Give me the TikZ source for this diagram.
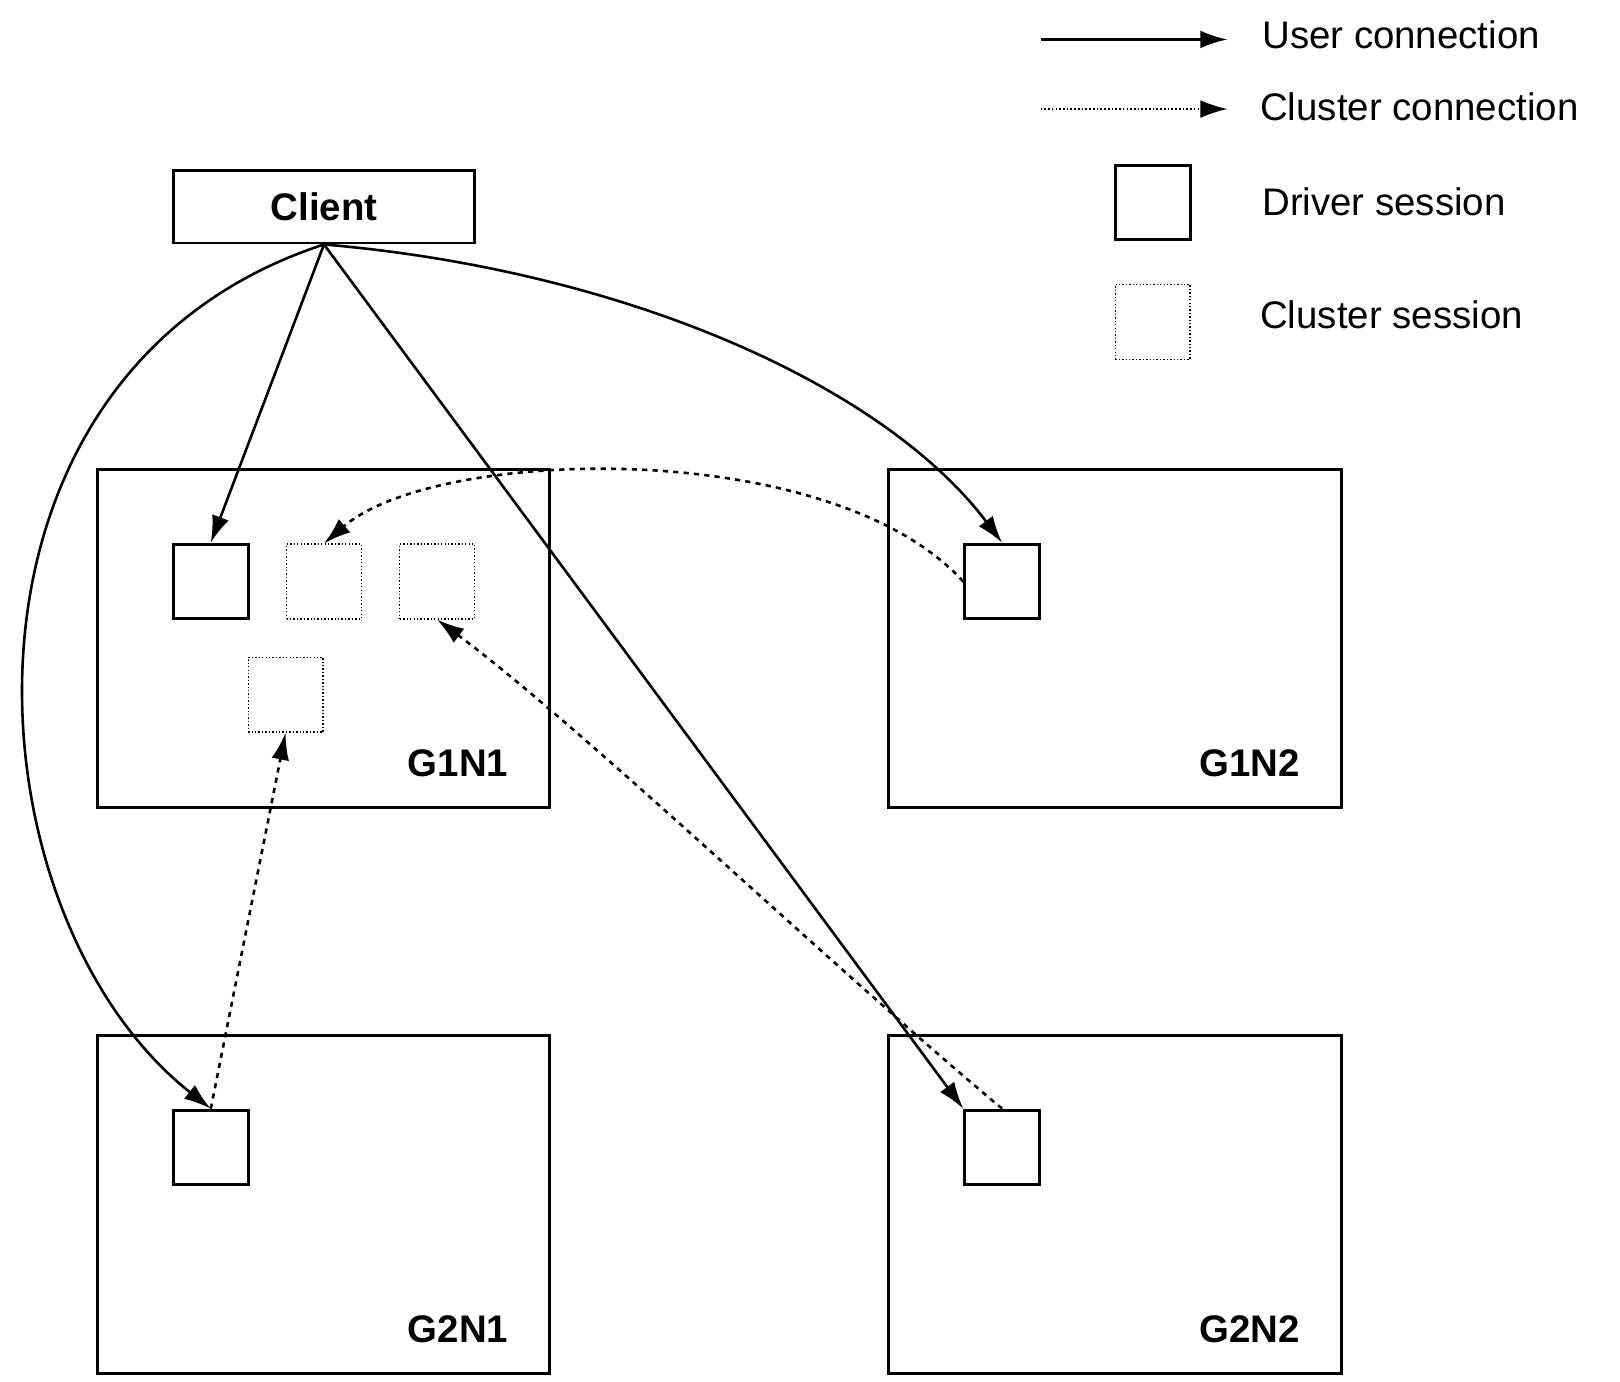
\documentclass[tikz,border=0pt]{standalone}
\usepackage{fontspec}
\setmainfont{Liberation Sans}
\usetikzlibrary{arrows.meta}
\begin{document}
\begin{tikzpicture}[x=1pt,y=-1pt,
  box/.style={draw,line width=2.8pt},
  drv/.style={draw,line width=2.8pt,minimum width=72pt,minimum height=72pt,inner sep=0pt},
  cls/.style={draw,dotted,line width=1.3pt,minimum width=72pt,minimum height=72pt,inner sep=0pt},
  user/.style={line width=2.5pt,-{Latex[length=26pt,width=17pt]}},
  clus/.style={line width=2.5pt,dash pattern=on 5pt off 5pt,-{Latex[length=26pt,width=17pt]}},
  lbl/.style={font=\fontsize{37}{42}\selectfont\bfseries,anchor=south east},
  leg/.style={font=\fontsize{37}{42}\selectfont,anchor=west}]
\useasboundingbox (0,0) rectangle (1560,1330);
\node[box,minimum width=290pt,minimum height=70pt,inner sep=0pt,font=\fontsize{37}{42}\selectfont\bfseries] (client) at (312,199) {Client};
\draw[box] (94,452) rectangle (529,778); \node[lbl] (l1) at (493,752) {G1N1};
\draw[box] (856,452) rectangle (1292,778); \node[lbl] (l2) at (1255,752) {G1N2};
\draw[box] (94,997) rectangle (529,1323); \node[lbl] (l3) at (493,1297) {G2N1};
\draw[box] (856,997) rectangle (1292,1323); \node[lbl] (l4) at (1255,1297) {G2N2};
\node[drv] (d11) at (203,560) {};
\node[drv] (d12) at (965,560) {};
\node[drv] (d21) at (203,1105) {};
\node[drv] (d22) at (965,1105) {};
\node[cls] (c1) at (312,560) {};
\node[cls] (c2) at (421,560) {};
\node[cls] (c3) at (275,669) {};
\draw[user] (client.south) -- (d11.north);
\draw[user] (client.south) -- (d22.north west);
\draw[user] (client.south) .. controls (600,260) and (850,370) .. (d12.north);
\draw[user] (client.south) .. controls (-70,360) and (-35,880) .. (d21.north);
\draw[clus] (d12.west) .. controls (800,420) and (420,430) .. (c1.north);
\draw[clus] (d21.north) -- (c3.south);
\draw[clus] (d22.north) .. controls (800,930) and (560,700) .. (c2.south);
% legend
\coordinate (a1) at (1002,38); \coordinate (a2) at (1182,38);
\coordinate (b1) at (1002,105); \coordinate (b2) at (1182,105);
\draw[user] (a1) -- (a2);
\draw[line width=1.6pt,dotted,-{Latex[length=26pt,width=17pt]}] (b1) -- (b2);
\node[drv] (ld) at (1110,195) {};
\node[cls] (lc) at (1110,310) {};
\node[leg] (t1) at (1212,33) {User connection};
\node[leg] (t2) at (1210,103) {Cluster connection};
\node[leg] (t3) at (1212,194) {Driver session};
\node[leg] (t4) at (1210,303) {Cluster session};
\end{tikzpicture}
\end{document}
